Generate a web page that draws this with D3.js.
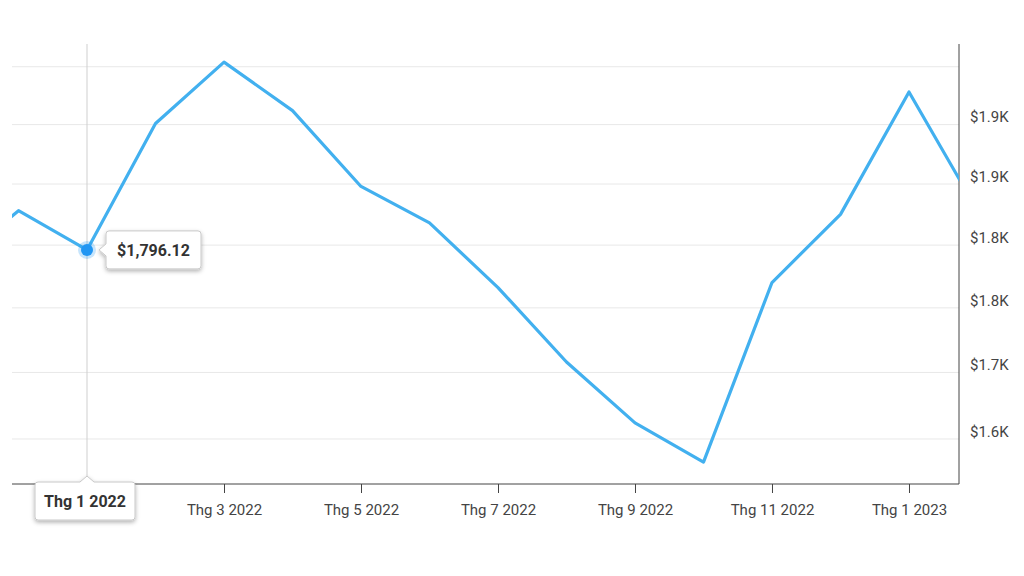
<!DOCTYPE html>
<html lang="vi">
<head>
<meta charset="utf-8">
<title>Gold price</title>
<script src="https://cdn.jsdelivr.net/npm/d3@7"></script>
<style>
  body { margin: 0; background: #fff; }
  svg { font-family: Roboto, "Noto Sans", sans-serif; }
  .grid line { stroke: #e8e8e8; }
  .axis text { fill: #444; font-size: 15px; font-family: Roboto, "Noto Sans", sans-serif; }
  .axis path, .axis line { stroke: #444; }
</style>
</head>
<body>
<svg id="chart" width="1024" height="576"></svg>
<script>
// monthly points, Thg 11 2021 .. Thg 2 2023
const months = ["Thg 11 2021", "Thg 12 2021", "Thg 1 2022", "Thg 2 2022", "Thg 3 2022", "Thg 4 2022",
  "Thg 5 2022", "Thg 6 2022", "Thg 7 2022", "Thg 8 2022", "Thg 9 2022", "Thg 10 2022",
  "Thg 11 2022", "Thg 12 2022", "Thg 1 2023", "Thg 2 2023"];
const prices = [1782, 1828, 1796.12, 1901, 1954, 1912, 1848, 1818, 1766, 1708, 1662, 1633,
  1770, 1825, 1928, 1828];

const yTicks = [1650, 1700, 1750, 1800, 1850, 1900, 1950];
const yTickLabels = ["$1.6K", "$1.7K", "$1.8K", "$1.8K", "$1.9K", "$1.9K", ""];
// month indexes with a tick (Thg 1 2022 sits under the hover label)
const xTicks = [4, 6, 8, 10, 12, 14];

const hoverIndex = 2;

const svg = d3.select("#chart");
const plotLeft = 12, plotRight = 959, plotTop = 44, plotBottom = 484;

const x = d3.scaleLinear().domain([0.905, 14.73]).range([plotLeft, plotRight]);
const y = d3.scaleLog().domain([1617, 1970]).range([plotBottom, plotTop]);

// drop shadow for the tooltips
const defs = svg.append("defs");
const f = defs.append("filter").attr("id", "shadow")
  .attr("x", "-20%").attr("y", "-30%").attr("width", "140%").attr("height", "170%");
f.append("feDropShadow").attr("dx", 0).attr("dy", 2).attr("stdDeviation", 2)
  .attr("flood-color", "#000").attr("flood-opacity", 0.3);
defs.append("clipPath").attr("id", "plot")
  .append("rect").attr("x", plotLeft).attr("y", plotTop)
  .attr("width", plotRight - plotLeft).attr("height", plotBottom - plotTop);

// gridlines
svg.append("g").attr("class", "grid")
  .selectAll("line").data(yTicks).join("line")
  .attr("x1", plotLeft).attr("x2", plotRight)
  .attr("y1", d => y(d)).attr("y2", d => y(d));

// crosshair
svg.append("line")
  .attr("x1", x(hoverIndex)).attr("x2", x(hoverIndex))
  .attr("y1", plotTop).attr("y2", plotBottom)
  .attr("stroke", "#cfcfcf");

// right axis
const yAxis = svg.append("g").attr("class", "axis")
  .attr("transform", `translate(${plotRight},0)`)
  .call(d3.axisRight(y).tickValues(yTicks).tickSize(0).tickPadding(11)
    .tickFormat((d, i) => yTickLabels[i]));
yAxis.select(".domain").attr("d", `M0,${plotTop}V${plotBottom}`);
yAxis.selectAll("text").attr("dy", "-0.18em");

// bottom axis
const xAxis = svg.append("g").attr("class", "axis")
  .attr("transform", `translate(0,${plotBottom})`)
  .call(d3.axisBottom(x).tickValues(xTicks).tickSize(9).tickSizeOuter(0).tickPadding(11)
    .tickFormat(d => months[d]));
xAxis.select(".domain").attr("d", `M${plotLeft},0H${plotRight}`);

// price line
const line = d3.line().x((d, i) => x(i)).y(d => y(d));
svg.append("path")
  .datum(prices)
  .attr("clip-path", "url(#plot)")
  .attr("d", line)
  .attr("fill", "none")
  .attr("stroke", "#42b0ef")
  .attr("stroke-width", 3.2)
  .attr("stroke-linejoin", "round");

// hovered point
const px = x(hoverIndex), py = y(prices[hoverIndex]);
svg.append("circle").attr("cx", px).attr("cy", py).attr("r", 9)
  .attr("fill", "#2196f3").attr("opacity", 0.25);
svg.append("circle").attr("cx", px).attr("cy", py).attr("r", 6)
  .attr("fill", "#2196f3");

// value tooltip
const vt = svg.append("g").attr("transform", `translate(${px + 19},${py})`);
vt.append("path")
  .attr("d", "M3,-19H92a3,3 0 0 1 3,3V16a3,3 0 0 1 -3,3H3a3,3 0 0 1 -3,-3V6L-7,0L0,-6V-16a3,3 0 0 1 3,-3Z")
  .attr("fill", "#fff").attr("stroke", "#c8c8c8").attr("filter", "url(#shadow)");
vt.append("text").attr("x", 47.5).attr("y", 6)
  .attr("text-anchor", "middle")
  .attr("font-size", 16).attr("font-weight", "bold").attr("fill", "#333")
  .text("$" + d3.format(",.2f")(prices[hoverIndex]));

// date tooltip
const dt = svg.append("g").attr("transform", `translate(${px},${plotBottom - 2})`);
dt.append("path")
  .attr("d", "M-49,0H-7L0,-6L7,0H45a3,3 0 0 1 3,3V35a3,3 0 0 1 -3,3H-49a3,3 0 0 1 -3,-3V3a3,3 0 0 1 3,-3Z")
  .attr("fill", "#fff").attr("stroke", "#c8c8c8").attr("filter", "url(#shadow)");
dt.append("text").attr("x", -2).attr("y", 25)
  .attr("text-anchor", "middle")
  .attr("font-size", 16).attr("font-weight", "bold").attr("fill", "#333")
  .text(months[hoverIndex]);
</script>
</body>
</html>
